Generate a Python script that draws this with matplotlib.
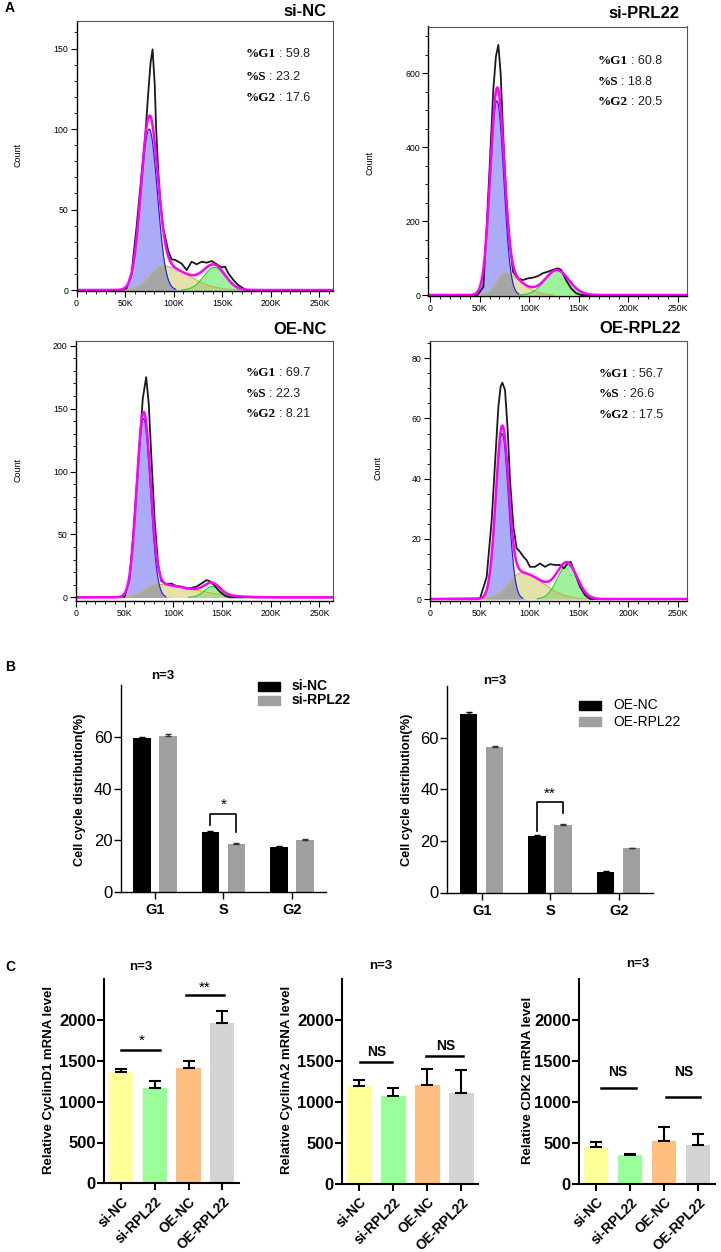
import numpy as np
import matplotlib
matplotlib.use("Agg")
import matplotlib.pyplot as plt
from matplotlib.ticker import MultipleLocator
from matplotlib.patches import Rectangle

plt.rcParams['font.family'] = ['Liberation Sans', 'DejaVu Sans']

W, H = 721, 1252

# ---------------- Panel A data ----------------
hist_titles = ['si-NC', 'si-PRL22', 'OE-NC', 'OE-RPL22']
pct_g1 = ['59.8', '60.8', '69.7', '56.7']
pct_s = ['23.2', '18.8', '22.3', '26.6']
pct_g2 = ['17.6', '20.5', '8.21', '17.5']
hist_xticks = [0, 50, 100, 150, 200, 250]
hist_xticklabels = ['0', '50K', '100K', '150K', '200K', '250K']
hist_yticks = [[0, 50, 100, 150], [0, 200, 400, 600], [0, 50, 100, 150, 200], [0, 20, 40, 60, 80]]

# fitted model components: centre (K), peak count, sigma (K)
g1_fit = [[74.8, 100, 8.4], [67.5, 525, 6.8], [69.4, 142, 7.0], [72.7, 55, 6.4]]
# S phase: centre, peak, sigma left, sigma right
s_fit = [[89.0, 14.9, 13, 26], [75.6, 58.6, 8, 16], [82.2, 10.3, 11, 38], [92.4, 8.7, 12.7, 21.6]]
g2_fit = [[142.0, 14.0, 11], [128.0, 67, 12], [139.8, 8.5, 8], [138.4, 11.3, 10]]

# raw DNA histograms (black lines): channel (K) and count
raw_x_sinc = [0, 46, 51.5, 56.7, 61.8, 67, 70.4, 73.8, 76.2, 78.3, 80.5, 82, 84, 86, 89.3, 92, 94.5, 97.9,
              101.3, 104.8, 108.2, 113.4, 118.5, 123.7, 128.8, 134, 139.1, 144.3, 149.5, 152.9, 156.3,
              161.5, 166.6, 171.8, 175.2, 264]
raw_y_sinc = [0, 0, 1, 10.4, 39, 72, 93, 122, 141, 149.5, 128, 100, 75, 57, 38, 31, 24, 19,
              18.8, 17.6, 16.4, 12.4, 17.6, 16, 17.6, 17, 18, 16, 14, 14.5, 10.4,
              6.2, 3, 1, 0, 0]
raw_x_sirpl = [-1.5, 48, 53.8, 57.1, 60.4, 63.8, 66.4, 68.9, 71.2, 73.8, 77.1, 80.4, 83.7, 88.7, 93.7,
               98.8, 103.8, 108.8, 113.8, 118.9, 123.9, 128.9, 132.2, 137.2, 142.2, 147.2, 152.2, 259]
raw_y_sirpl = [0, 0, 22, 185, 360, 554, 644, 676, 599, 428, 250, 140, 62, 45, 40.5,
               45, 47, 51, 59, 63, 68, 72, 68, 40, 18, 5, 0, 0]
raw_x_oenc = [0, 49.8, 54.9, 58.4, 61.8, 65.2, 68.6, 72.1, 74.8, 77.3, 80.7, 84.2, 87.6, 92.8, 98,
              103.1, 108.3, 113.4, 118.6, 123.7, 128.9, 134, 137.5, 142.6, 147.8, 153, 158, 264]
raw_y_oenc = [0, 0.5, 14.1, 46, 83, 121, 158, 175, 153, 113, 62, 27, 13, 10.3, 11,
              8.9, 8.5, 7, 7.5, 8.5, 11, 13.7, 12.9, 9.2, 4.5, 1.3, 0, 0]
raw_x_oerpl = [0, 50.4, 57.1, 62.2, 65.5, 68.9, 71.2, 72.9, 75.6, 78.3, 80.6, 84, 87.3, 90.7, 94,
               97.4, 100.7, 105.8, 110.8, 115.9, 120.9, 126, 131, 135, 138.4, 141.7, 146.1, 151.2,
               156.2, 161.3, 259]
raw_y_oerpl = [0, 0.2, 7.3, 26.3, 45, 63.9, 70.6, 71.9, 69.5, 56.2, 39.6, 24.1, 16.9, 15.7, 14.1,
               12.9, 10.7, 10.7, 11.8, 10.7, 11.6, 11.3, 11.3, 10.2, 11.8, 12.4, 8.5, 4.1,
               1.3, 0, 0]
raw_x = [raw_x_sinc, raw_x_sirpl, raw_x_oenc, raw_x_oerpl]
raw_y = [raw_y_sinc, raw_y_sirpl, raw_y_oenc, raw_y_oerpl]

# ---------------- Panel B data ----------------
phases = ['G1', 'S', 'G2']
si_nc_pct = [59.5, 23.2, 17.3]
si_nc_err = [0.5, 0.3, 0.4]
si_rpl22_pct = [60.4, 18.5, 20.3]
si_rpl22_err = [0.6, 0.5, 0.4]
oe_nc_pct = [69.1, 21.9, 7.9]
oe_nc_err = [0.7, 0.3, 0.3]
oe_rpl22_pct = [56.3, 26.2, 17.1]
oe_rpl22_err = [0.5, 0.5, 0.3]

# ---------------- Panel C data ----------------
groups = ['si-NC', 'si-RPL22', 'OE-NC', 'OE-RPL22']
cyclind1 = [1362, 1166, 1418, 1968]
cyclind1_err = [37, 92, 77, 143]
cyclina2 = [1199, 1076, 1211, 1117]
cyclina2_err = [74, 94, 194, 279]
cdk2 = [452, 357, 530, 480]
cdk2_err = [65, 9, 168, 136]

fig = plt.figure(figsize=(W / 100, H / 100), dpi=100)


def px_rect(l, t, r, b):
    return [l / W, 1 - b / H, (r - l) / W, (b - t) / H]


def ftext(x, y, s, **kw):
    return fig.text(x / W, 1 - y / H, s, **kw)


# ---------------- Panel A ----------------
G1_FILL, S_FILL, G2_FILL = '#ABABF6', '#E4E2AA', '#9EF29E'
OV1, OV2 = '#A6A6A6', '#B3D48A'
hist_boxes = [(76.5, 20.5, 333, 291), (428.5, 26.5, 687, 296), (76, 341, 333, 600.5), (430, 340.7, 687, 600.7)]
hist_xlims = [(0, 264), (-1.5, 259), (0, 264), (0, 259)]
hist_ylims = [(-0.6, 167.4), (-2.7, 725.7), (-2.5, 203.7), (-0.56, 85.85)]
hist_yminor = [10, 50, 10, 5]
title_pos = [(326, 11), (679, 13), (326.7, 330), (680.7, 328)]
pct_pos = [(245.7, [54, 76.7, 97.7]), (597.7, [61, 82, 102]), (245.7, [373, 394, 414]), (599, [374, 394, 414.7])]
count_pos = [(18, 155), (370, 163), (18, 470), (378, 468)]

renderer = fig.canvas.get_renderer()

for i in range(4):
    ax = fig.add_axes(px_rect(*hist_boxes[i]))
    x = np.linspace(hist_xlims[i][0], hist_xlims[i][1], 1500)
    c1, h1, s1 = g1_fit[i]
    g1 = h1 * np.exp(-0.5 * ((x - c1) / s1) ** 2)
    cs, hs, sl, sr = s_fit[i]
    sp = np.where(x < cs, sl, sr)
    sc = hs * np.exp(-0.5 * ((x - cs) / sp) ** 2)
    c2, h2, s2 = g2_fit[i]
    g2 = h2 * np.exp(-0.5 * ((x - c2) / s2) ** 2)
    total = g1 + sc + g2
    ax.fill_between(x, 0, sc, color=S_FILL, lw=0)
    ax.fill_between(x, 0, g1, color=G1_FILL, lw=0)
    ax.fill_between(x, 0, g2, color=G2_FILL, lw=0)
    ax.fill_between(x, 0, np.minimum(g1, sc), color=OV1, lw=0)
    ax.fill_between(x, 0, np.minimum(sc, g2), color=OV2, lw=0)
    ax.plot(x, np.where(sc > hs * 0.01, sc, np.nan), color='#BDB44A', lw=0.8)
    ax.plot(x, np.where(g1 > h1 * 0.005, g1, np.nan), color='#1A1AE6', lw=0.8)
    ax.plot(x, np.where(g2 > h2 * 0.01, g2, np.nan), color='#22CC22', lw=0.8)
    ax.plot(raw_x[i], raw_y[i], color='#1A1A1A', lw=1.3)
    ax.plot(x, total, color='#FF00FF', lw=1.8)
    ax.set_xlim(*hist_xlims[i])
    ax.set_ylim(*hist_ylims[i])
    ax.set_xticks(hist_xticks)
    ax.set_xticklabels(hist_xticklabels)
    ax.xaxis.set_minor_locator(MultipleLocator(10))
    ax.set_yticks(hist_yticks[i])
    ax.yaxis.set_minor_locator(MultipleLocator(hist_yminor[i]))
    ax.tick_params(which='major', direction='out', length=4, width=0.8, labelsize=6.3, pad=2)
    ax.tick_params(which='minor', direction='out', length=2, width=0.6)
    for sp_name in ['left', 'bottom']:
        ax.spines[sp_name].set_color('black')
        ax.spines[sp_name].set_linewidth(1.0)
    for sp_name in ['top', 'right']:
        ax.spines[sp_name].set_color('#555555')
        ax.spines[sp_name].set_linewidth(0.8)
    tx, ty = title_pos[i]
    ftext(tx, ty, hist_titles[i], ha='right', va='center', fontsize=12, fontweight='bold')
    cx, cy = count_pos[i]
    ftext(cx, cy, 'Count', ha='center', va='center', rotation=90, fontsize=6.5)
    px, pys = pct_pos[i]
    for lab, val, py in zip(['%G1', '%S', '%G2'], [pct_g1[i], pct_s[i], pct_g2[i]], pys):
        t1 = ftext(px, py, lab, ha='left', va='center', fontsize=9.5, fontweight='bold',
                   family=['Liberation Serif', 'DejaVu Serif'])
        bb = t1.get_window_extent(renderer=renderer)
        ftext(bb.x1 + 3, py, ': ' + val, ha='left', va='center', fontsize=9, color='#222222')

ftext(5, 7.5, 'A', ha='left', va='center', fontsize=10, fontweight='bold')

# ---------------- Panel B ----------------
B_BLACK, B_GRAY = '#000000', '#A0A0A0'


def panel_b(box, vals_a, err_a, vals_b, err_b, labels, bold_legend, leg_px, leg_pitch,
            sig_text, sig_idx, bracket, ntitle_xy, ylabel_x):
    ax = fig.add_axes(px_rect(*box))
    xs = np.arange(len(phases))
    off, wid = 0.19, 0.255
    ax.bar(xs - off, vals_a, width=wid, color=B_BLACK, zorder=2)
    ax.bar(xs + off, vals_b, width=wid, color=B_GRAY, zorder=2)
    ax.errorbar(xs - off, vals_a, yerr=[np.zeros(3), err_a], fmt='none', ecolor='black',
                elinewidth=1, capsize=2.5, capthick=1, zorder=3)
    ax.errorbar(xs + off, vals_b, yerr=[np.zeros(3), err_b], fmt='none', ecolor='#333333',
                elinewidth=1, capsize=2.5, capthick=1, zorder=3)
    ax.set_xlim(-0.5, 2.5)
    ax.set_ylim(0, 80)
    ax.set_yticks([0, 20, 40, 60])
    ax.set_xticks(xs)
    ax.set_xticklabels(phases, fontweight='bold', fontsize=10.5)
    ax.tick_params(axis='y', labelsize=12, length=5, width=1.0, pad=1)
    ax.tick_params(axis='x', length=5, width=1.0, pad=3)
    for s in ['top', 'right']:
        ax.spines[s].set_visible(False)
    for s in ['left', 'bottom']:
        ax.spines[s].set_linewidth(1.0)
    # significance bracket
    ytop, yl, yr = bracket
    xl, xr = sig_idx - off, sig_idx + off
    ax.plot([xl, xl, xr, xr], [yl, ytop, ytop, yr], color='black', lw=1.2, clip_on=False)
    ax.text(sig_idx, ytop + 3.2, sig_text, ha='center', va='center', fontsize=11)
    ax.text(ntitle_xy[0], ntitle_xy[1], 'n=3', ha='center', va='center', fontsize=9.5,
            fontweight='bold', clip_on=False)
    ftext(ylabel_x, 790, 'Cell cycle distribution(%)', rotation=90, ha='center', va='center',
          fontsize=9.2, fontweight='bold')
    lx, ly = leg_px
    for k, (lab, col) in enumerate(zip(labels, [B_BLACK, B_GRAY])):
        yy = ly + k * leg_pitch
        fig.add_artist(Rectangle((lx / W, 1 - (yy + 4.5) / H), 22 / W, 9 / H, color=col,
                                 transform=fig.transFigure))
        ftext(lx + 34, yy, lab, ha='left', va='center', fontsize=10,
              fontweight='bold' if bold_legend else 'normal')


panel_b((120.7, 685, 326, 892.3), si_nc_pct, si_nc_err, si_rpl22_pct, si_rpl22_err,
        ['si-NC', 'si-RPL22'], True, (258, 686), 14.3, '*', 1, (30.4, 26.0, 23.4), (0.12, 83.3), 80)
panel_b((447.3, 686, 653, 892.5), oe_nc_pct, oe_nc_err, oe_rpl22_pct, oe_rpl22_err,
        ['OE-NC', 'OE-RPL22'], False, (579, 705), 16.7, '**', 1, (35.1, 23.9, 30.9), (0.19, 82.0), 406.7)
ftext(5, 667, 'B', ha='left', va='center', fontsize=10, fontweight='bold')

# ---------------- Panel C ----------------
C_COLORS = ['#FFFF99', '#99FF99', '#FFBF80', '#D3D3D3']


def panel_c(box, vals, errs, ylabel, ylabel_x, sigs, ntitle_xy):
    ax = fig.add_axes(px_rect(*box))
    xs = np.arange(len(groups))
    ax.bar(xs, vals, width=0.72, color=C_COLORS, zorder=2)
    ax.errorbar(xs, vals, yerr=[np.zeros(len(vals)), errs], fmt='none', ecolor='black',
                elinewidth=1.5, capsize=4, capthick=1.5, zorder=3)
    ax.set_xlim(-0.5, 3.5)
    ax.set_ylim(0, 2500)
    ax.set_yticks([0, 500, 1000, 1500, 2000])
    ax.set_xticks(xs)
    ax.set_xticklabels(groups, rotation=45, ha='right', rotation_mode='anchor',
                       fontweight='bold', fontsize=10)
    for lab in ax.get_yticklabels():
        lab.set_fontweight('bold')
    ax.tick_params(axis='y', labelsize=12, length=5, width=1.5, pad=1)
    ax.tick_params(axis='x', length=5, width=1.5, pad=3)
    for s in ['top', 'right']:
        ax.spines[s].set_visible(False)
    for s in ['left', 'bottom']:
        ax.spines[s].set_linewidth(1.5)
    for (x0, x1, yline, txt, tx, ty) in sigs:
        ax.plot([x0, x1], [yline, yline], color='black', lw=1.8, clip_on=False)
        ax.text(tx, ty, txt, ha='center', va='center', fontsize=10 if txt == 'NS' else 11,
                fontweight='bold' if txt == 'NS' else 'normal')
    ax.text(ntitle_xy[0], ntitle_xy[1], 'n=3', ha='center', va='center', fontsize=9.5,
            fontweight='bold', clip_on=False)
    ftext(ylabel_x, 1080, ylabel, rotation=90, ha='center', va='center', fontsize=9.5,
          fontweight='bold')


panel_c((104, 979.3, 239.2, 1183.3), cyclind1, cyclind1_err, 'Relative CyclinD1 mRNA level', 49,
        [(0.0, 1.15, 1634, '*', 0.62, 1745), (1.94, 3.05, 2307, '**', 2.49, 2400)], (0.58, 2651))
panel_c((342.3, 979.3, 478.3, 1184), cyclina2, cyclina2_err, 'Relative CyclinA2 mRNA level', 286.7,
        [(0.03, 0.96, 1495, 'NS', 0.52, 1610), (1.96, 3.04, 1569, 'NS', 2.55, 1684)], (0.62, 2662))
panel_c((579, 979.3, 715, 1184), cdk2, cdk2_err, 'Relative CDK2 mRNA level', 528,
        [(0.14, 1.17, 1167, 'NS', 0.63, 1364), (2.05, 3.06, 1063, 'NS', 2.58, 1364)], (1.24, 2687))
ftext(5, 967, 'C', ha='left', va='center', fontsize=10, fontweight='bold')

fig.savefig('out.png', dpi=100, facecolor='white')
